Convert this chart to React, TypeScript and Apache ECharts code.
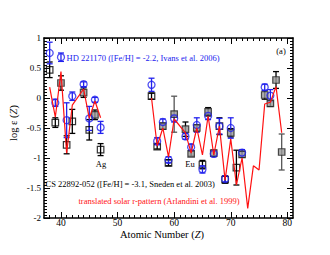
import React, { useEffect, useRef } from 'react';
import * as echarts from 'echarts';

// HD 221170 (blue circles)
const Z_BLUE = [38, 39, 40, 41, 42, 44, 45, 46, 47, 56, 57, 58, 59, 60, 62, 63, 64, 65, 66, 67, 68, 69, 70, 72, 76, 77];
const LOGEPS_BLUE = [0.75, -0.08, 0.68, -0.37, 0.03, 0.23, -0.34, -0.03, -0.49, 0.22, -0.72, -0.4, -1.03, -0.34, -0.64, -0.82, -0.45, -1.19, -0.3, -0.93, -0.47, -1.35, -0.5, -0.91, 0.18, 0.04];
const ERR_BLUE = [0.18, 0.06, 0.07, 0.29, 0.07, 0.04, 0.2, 0.04, 0.1, 0.11, 0.06, 0.05, 0.05, 0.06, 0.05, 0.05, 0.12, 0.06, 0.06, 0.05, 0.13, 0.05, 0.17, 0.05, 0.05, 0.1];

// CS 22892-052 (black squares)
const Z_BLACK = [38, 39, 40, 41, 42, 44, 45, 46, 47, 56, 57, 58, 59, 60, 62, 63, 64, 65, 66, 67, 68, 69, 70, 71, 72, 76, 77, 78, 79];
const LOGEPS_BLACK = [0.47, -0.41, 0.25, -0.78, -0.39, 0.09, -0.53, -0.28, -0.86, 0.03, -0.81, -0.47, -1.08, -0.27, -0.52, -0.93, -0.5, -1.11, -0.23, -0.92, -0.47, -1.36, -0.58, -1.16, -0.94, 0.05, -0.09, 0.3, -0.9];
const ERR_BLACK = [0.13, 0.08, 0.12, 0.15, 0.2, 0.08, 0.17, 0.08, 0.1, 0.05, 0.04, 0.05, 0.05, 0.3, 0.12, 0.04, 0.05, 0.07, 0.07, 0.05, 0.14, 0.06, 0.07, 0.29, 0.05, 0.07, 0.05, 0.14, 0.3];
const Z_GREY_FILLED = [40, 44, 46, 58, 60, 62, 63, 64, 66, 67, 70, 72, 76, 77, 78, 79];
const Z_GREY_BARS = [60, 79];

// translated solar r-pattern (red line); null = gap
const Z_RED = [38, 39, 40, 41, 42, 44, 45, 46, 47, 48, 56, 57, 58, 59, 60, 62, 63, 64, 65, 66, 67, 68, 69, 70, 71, 72, 73, 74, 75, 76, 77, 78, 79];
const LOGEPS_RED = [0.18, -0.32, 0.44, -0.92, -0.12, 0.15, -0.34, -0.05, -0.33, null, 0.0, -0.8, -0.5, -0.98, -0.35, -0.58, -0.92, -0.5, -0.95, -0.3, -0.95, -0.47, -1.37, -0.68, -1.45, -1.0, -1.84, -1.13, -1.2, -0.1, -0.07, 0.19, -0.58];

const X_MAJOR = [40, 50, 60, 70, 80];
const X_MINOR: number[] = [];
for (let z = 38; z <= 80; z++) if (z % 10 !== 0) X_MINOR.push(z);

const FONT = 'Liberation Serif';
const BLUE = '#2222ee';
const RED = '#ff1111';

function errBarSeries(data: number[][], colorFor: (z: number) => string) {
  return {
    type: 'custom',
    xAxisIndex: 0,
    yAxisIndex: 0,
    silent: true,
    encode: { x: 0, y: 1 },
    data,
    renderItem: (params: any, api: any) => {
      const x = api.value(0);
      const y = api.value(1);
      const e = api.value(2);
      const top = api.coord([x, y + e]);
      const bot = api.coord([x, y - e]);
      const w = 3;
      const style = { stroke: colorFor(x), lineWidth: 1.3, fill: 'none' };
      return {
        type: 'group',
        children: [
          { type: 'line', shape: { x1: top[0], y1: top[1], x2: bot[0], y2: bot[1] }, style },
          { type: 'line', shape: { x1: top[0] - w, y1: top[1], x2: top[0] + w, y2: top[1] }, style },
          { type: 'line', shape: { x1: bot[0] - w, y1: bot[1], x2: bot[0] + w, y2: bot[1] }, style },
        ],
      };
    },
  };
}

export default function App() {
  const ref = useRef<HTMLDivElement>(null);
  useEffect(() => {
    const chart = echarts.init(ref.current!, null, { renderer: 'svg' });
    const frame = { color: '#000', width: 1.5 };
    const tickStyle = { color: '#000', width: 1 };
    const xBase = { type: 'value', min: 37, max: 81, splitLine: { show: false } };
    const xMajor = (pos: string, labels: boolean) => ({
      ...xBase,
      position: pos,
      axisLine: { show: true, onZero: false, lineStyle: frame },
      axisTick: { show: true, inside: true, length: 6, customValues: X_MAJOR, lineStyle: tickStyle },
      axisLabel: labels
        ? { show: true, customValues: X_MAJOR, margin: 0, fontFamily: FONT, fontSize: 9.5, color: '#000' }
        : { show: false },
    });
    const xMinor = (pos: string) => ({
      ...xBase,
      position: pos,
      axisLine: { show: false, onZero: false },
      axisTick: { show: true, inside: true, length: 3, customValues: X_MINOR, lineStyle: tickStyle },
      axisLabel: { show: false },
    });
    const yAx = (pos: string, labels: boolean) => ({
      type: 'value',
      min: -2,
      max: 1,
      interval: 0.5,
      position: pos,
      axisLine: { show: true, onZero: false, lineStyle: frame },
      axisTick: { show: true, inside: true, length: 6, lineStyle: tickStyle },
      minorTick: { show: true, splitNumber: 10, length: 3, lineStyle: tickStyle },
      splitLine: { show: false },
      minorSplitLine: { show: false },
      axisLabel: labels
        ? { show: true, margin: 3, fontFamily: FONT, fontSize: 9, color: '#000' }
        : { show: false },
    });

    const blackAll = Z_BLACK.map((z, i) => [z, LOGEPS_BLACK[i], ERR_BLACK[i]]);
    const blueAll = Z_BLUE.map((z, i) => [z, LOGEPS_BLUE[i], ERR_BLUE[i]]);

    const txt = (text: string, x: number, y: number, color: string, size: number, align = 'left') => ({
      type: 'text',
      x,
      y,
      silent: true,
      style: { text, fill: color, fontFamily: FONT, fontSize: size, textAlign: align, textVerticalAlign: 'middle' },
    });

    const option: any = {
      animation: false,
      backgroundColor: '#fff',
      grid: { left: 44, right: 37, top: 38, bottom: 37, containLabel: false },
      xAxis: [xMajor('bottom', true), xMinor('bottom'), xMajor('top', false), xMinor('top')],
      yAxis: [yAx('left', true), yAx('right', false)],
      series: [
        errBarSeries(blackAll, (z) => (Z_GREY_BARS.includes(z) ? '#555' : '#000')),
        {
          type: 'scatter',
          silent: true,
          symbol: 'rect',
          symbolSize: 6.5,
          data: blackAll.filter((d) => !Z_GREY_FILLED.includes(d[0])).map((d) => [d[0], d[1]]),
          itemStyle: { color: 'rgba(255,255,255,0)', borderColor: '#000', borderWidth: 1.2 },
        },
        {
          type: 'scatter',
          silent: true,
          symbol: 'rect',
          symbolSize: 6.5,
          data: blackAll.filter((d) => Z_GREY_FILLED.includes(d[0])).map((d) => [d[0], d[1]]),
          itemStyle: { color: '#999', borderColor: '#222', borderWidth: 1.2 },
        },
        errBarSeries(blueAll, () => BLUE),
        {
          type: 'scatter',
          silent: true,
          symbol: 'circle',
          symbolSize: 7,
          data: blueAll.map((d) => [d[0], d[1]]),
          itemStyle: { color: 'rgba(255,255,255,0)', borderColor: BLUE, borderWidth: 1.3 },
        },
        {
          type: 'line',
          silent: true,
          showSymbol: false,
          symbol: 'none',
          connectNulls: false,
          data: Z_RED.map((z, i) => [z, LOGEPS_RED[i] === null ? '-' : LOGEPS_RED[i]]),
          lineStyle: { color: RED, width: 1.2 },
        },
      ],
      graphic: [
        txt('HD 221170 ([Fe/H] = -2.2, Ivans et al. 2006)', 66.5, 57.5, BLUE, 8.5),
        txt('CS 22892-052 ([Fe/H] = -3.1, Sneden et al. 2003)', 45.5, 183.5, '#000', 8.5),
        txt('translated solar r-pattern (Arlandini et al. 1999)', 78.5, 201, RED, 8.5),
        txt('(a)', 281, 51, '#000', 8.5, 'center'),
        txt('Ag', 101, 164, '#000', 8.5, 'center'),
        txt('Eu', 190, 164, '#000', 8.5, 'center'),
        {
          type: 'text',
          x: 162,
          y: 234,
          silent: true,
          style: {
            text: 'Atomic Number ({i|Z})',
            fill: '#000',
            fontFamily: FONT,
            fontSize: 10.5,
            textAlign: 'center',
            textVerticalAlign: 'middle',
            rich: { i: { fontFamily: FONT, fontSize: 10.5, fontStyle: 'italic', fill: '#000' } },
          },
        },
        {
          type: 'text',
          x: 13,
          y: 123,
          rotation: Math.PI / 2,
          silent: true,
          style: {
            text: 'log ε ({i|Z})',
            fill: '#000',
            fontFamily: FONT,
            fontSize: 10.5,
            textAlign: 'center',
            textVerticalAlign: 'middle',
            rich: { i: { fontFamily: FONT, fontSize: 10.5, fontStyle: 'italic', fill: '#000' } },
          },
        },
      ],
    };
    chart.setOption(option);
    return () => chart.dispose();
  }, []);
  return (
    <div
      ref={ref}
      style={{ position: 'fixed', left: 0, top: 0, width: 330, height: 255, background: '#fff' }}
    />
  );
}
